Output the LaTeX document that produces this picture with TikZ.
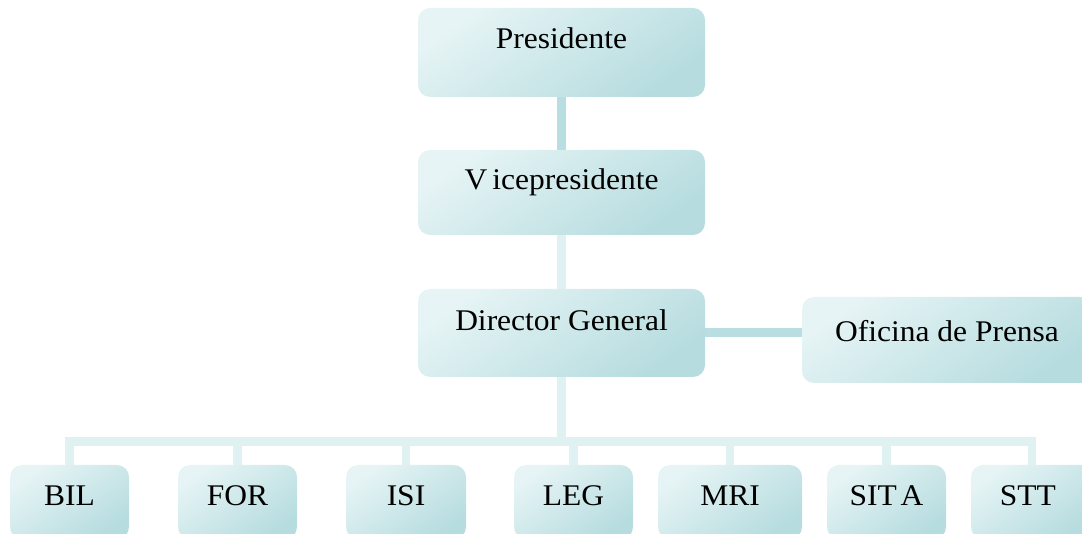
\documentclass[tikz,border=0pt]{standalone}
\usepackage{fontspec}
\setmainfont{Liberation Serif}
\usepackage{graphicx}
\definecolor{boxA}{HTML}{E6F4F5}
\definecolor{boxB}{HTML}{B6DCDF}
\definecolor{connDark}{HTML}{B9DEE1}
\definecolor{connLight}{HTML}{E0F1F2}
\newcommand{\bt}[2]{\raisebox{#1pt}{\scalebox{1.05}[1]{#2}}}
\tikzset{
  orgbox/.style={rectangle, rounded corners=12pt, left color=boxA, right color=boxB,
    shading angle=35, draw=none, inner sep=0pt, text height=0pt, text depth=0pt,
    font=\fontsize{30}{30}\selectfont, text=black},
  darkconn/.style={draw=connDark, line width=9pt},
  lightconn/.style={draw=connLight, line width=8.5pt},
}
\begin{document}
\begin{tikzpicture}[x=1pt,y=-1pt]
\useasboundingbox (0,0) rectangle (1082,534);
\clip (0,0) rectangle (1082,534);
% top column
\node[orgbox, minimum width=287pt, minimum height=89pt] (pres) at (561.5,52.5) {\bt{4}{Presidente}};
\node[orgbox, minimum width=287pt, minimum height=85pt] (vice) at (561.5,192.5) {\bt{2.5}{V\hspace{0.16em}icepresidente}};
\node[orgbox, minimum width=287pt, minimum height=88pt] (dir) at (561.5,333) {\bt{2}{Director General}};
\node[orgbox, minimum width=290pt, minimum height=86pt] (ofi) at (947,340) {\bt{-2}{Oficina de Prensa}};
% bottom row
\node[orgbox, minimum width=119pt, minimum height=74pt] (bil) at (69.5,502) {\bt{-3}{BIL}};
\node[orgbox, minimum width=119pt, minimum height=74pt] (for) at (237.5,502) {\bt{-3}{FOR}};
\node[orgbox, minimum width=120pt, minimum height=74pt] (isi) at (406,502) {\bt{-3}{ISI}};
\node[orgbox, minimum width=119pt, minimum height=74pt] (leg) at (573.5,502) {\bt{-3}{LEG}};
\node[orgbox, minimum width=144pt, minimum height=74pt] (mri) at (730,502) {\bt{-3}{MRI}};
\node[orgbox, minimum width=119pt, minimum height=74pt] (sita) at (886.5,502) {\bt{-3}{SIT\hspace{0.12em}A}};
\node[orgbox, minimum width=122pt, minimum height=74pt] (stt) at (1032,502) {\bt{-3}{\hspace{-8pt}STT}};
\coordinate (busL) at (70,441.5);
% connectors
\draw[darkconn] (pres.south) -- (vice.north);
\draw[lightconn] (vice.south) -- (dir.north);
\draw[darkconn] (dir.east) -- (dir.east -| ofi.west);
\draw[lightconn] (dir.south) -- (dir.south |- busL);
\foreach \c in {bil,for,isi,leg,mri,sita,stt}{
  \draw[lightconn] (dir.south |- busL) -| (\c.north);
}
\end{tikzpicture}
\end{document}
